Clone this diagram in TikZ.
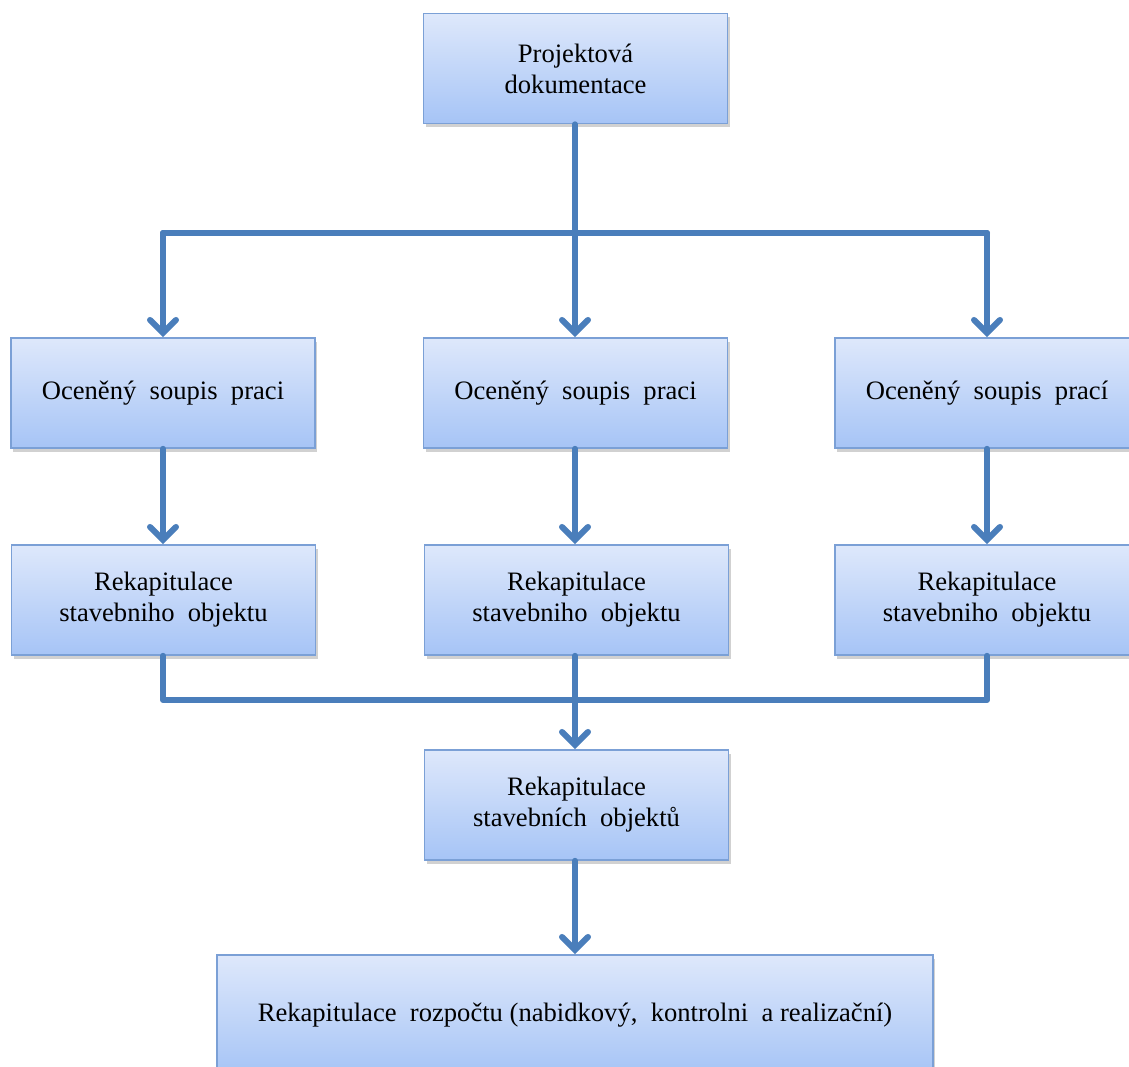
\documentclass[tikz,border=0pt]{standalone}
\usepackage{fontspec}
\setmainfont{Liberation Serif}
\usetikzlibrary{arrows.meta,shadows}
\definecolor{lineblue}{HTML}{4A7EBB}
\definecolor{boxtop}{HTML}{DEE8FB}
\definecolor{boxbot}{HTML}{A6C4F6}
\definecolor{boxedge}{HTML}{7BA0D6}
\begin{document}
\begin{tikzpicture}[x=0.5pt,y=-0.5pt,
  box/.style={draw=boxedge,line width=0.8pt,top color=boxtop,bottom color=boxbot,
    minimum width=152pt,minimum height=55pt,inner sep=0pt,align=center,
    font=\fontsize{13.3}{15.5}\selectfont,
    drop shadow={shadow xshift=1pt,shadow yshift=-1.8pt,opacity=0.3,fill=black!60}},
  conn/.style={draw=lineblue,line width=3pt,line cap=round,line join=round},
  arr/.style={conn,-{Straight Barb[length=6.5pt,width=13pt,line width=3pt,line cap=round]}}]
\useasboundingbox (0,0) rectangle (1129,1066);
\clip (0,0) rectangle (1129,1066);
% boxes
\node[box] (top) at (575.5,68.5) {Projektová\\dokumentace};
\node[box] (s1) at (163,393) {Oceněný\ \ soupis\ \ praci};
\node[box] (s2) at (575.5,393) {Oceněný\ \ soupis\ \ praci};
\node[box] (s3) at (987,393) {Oceněný\ \ soupis\ \ prací};
\node[box] (r1) at (163.5,600) {Rekapitulace\\stavebniho\ \ objektu};
\node[box] (r2) at (576.5,600) {Rekapitulace\\stavebniho\ \ objektu};
\node[box] (r3) at (987,600) {Rekapitulace\\stavebniho\ \ objektu};
\node[box] (rs) at (576.5,805) {Rekapitulace\\stavebních\ \ objektů};
\node[box,minimum width=358pt,minimum height=60pt,text depth=2.5pt] (rr) at (575,1015) {Rekapitulace\ \ rozpočtu\ (nabidkový,\ \ kontrolni\ \ a realizační)};
% connectors
\coordinate (j1) at (575,233);
\coordinate (jl) at (163,233);
\coordinate (jr) at (987,233);
\draw[conn] (top.south -| j1) -- (j1);
\draw[conn] (jl) -- (jr);
\draw[arr] (jl) -- (jl |- s1.north);
\draw[arr] (j1) -- (j1 |- s2.north);
\draw[arr] (jr) -- (jr |- s3.north);
\draw[arr] (s1.south -| jl) -- (jl |- r1.north);
\draw[arr] (s2.south -| j1) -- (j1 |- r2.north);
\draw[arr] (s3.south -| jr) -- (jr |- r3.north);
\coordinate (bl) at (163,700);
\coordinate (br) at (987,700);
\draw[conn] (r1.south -| bl) -- (bl) -- (br) -- (r3.south -| br);
\draw[arr] (r2.south -| j1) -- (j1 |- rs.north);
\draw[arr] (rs.south -| j1) -- (j1 |- rr.north);
\end{tikzpicture}
\end{document}
